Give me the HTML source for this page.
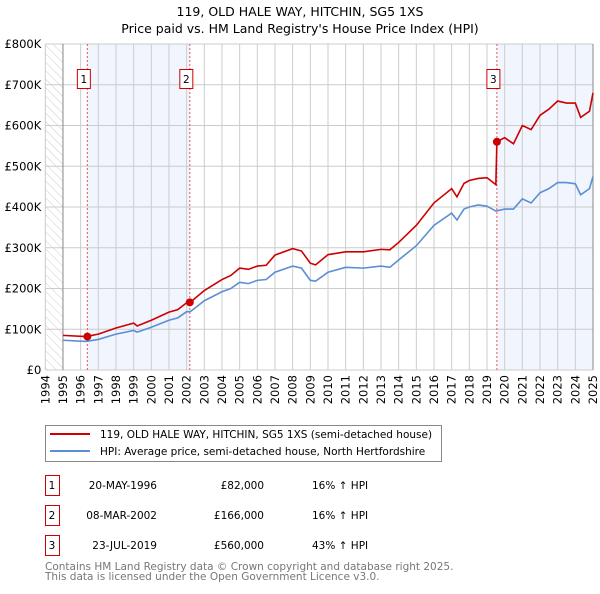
<!DOCTYPE html>
<html><head><meta charset="utf-8"><style>
body{margin:0;background:#fff;font-family:"DejaVu Sans","Liberation Sans",sans-serif}
svg text{font-family:"DejaVu Sans","Liberation Sans",sans-serif}
</style></head><body>
<svg id="c" width="600" height="590" xmlns="http://www.w3.org/2000/svg">
<defs><pattern id="hatch" width="6" height="6" patternUnits="userSpaceOnUse" patternTransform="rotate(-45)"><line x1="0" y1="0" x2="0" y2="6" stroke="#ccc" stroke-width="1"/></pattern></defs>
<text x="300" y="16" text-anchor="middle" font-size="12.5">119, OLD HALE WAY, HITCHIN, SG5 1XS</text>
<text x="300" y="33" text-anchor="middle" font-size="12.5">Price paid vs. HM Land Registry's House Price Index (HPI)</text>
<g id="plot"></g>
<rect x="45.5" y="425.5" width="396" height="36" fill="#fff" stroke="#888"/>
<line x1="50" y1="434" x2="90" y2="434" stroke="#cc0000" stroke-width="2"/>
<text x="100" y="438" font-size="10.5">119, OLD HALE WAY, HITCHIN, SG5 1XS (semi-detached house)</text>
<line x1="50" y1="451" x2="90" y2="451" stroke="#5b8fd4" stroke-width="2"/>
<text x="100" y="455" font-size="10.5">HPI: Average price, semi-detached house, North Hertfordshire</text>
<g id="table" font-size="10.5"></g>
<text x="45" y="570" font-size="10.5" fill="#777">Contains HM Land Registry data © Crown copyright and database right 2025.</text>
<text x="45" y="580" font-size="10.5" fill="#777">This data is licensed under the Open Government Licence v3.0.</text>
</svg>
<script>
const hpiYears=[1995,1996.3,1997,1998,1999,1999.2,2000,2001,2001.5,2002,2002.2,2003,2004,2004.5,2005,2005.5,2006,2006.5,2007,2008,2008.5,2009,2009.3,2010,2011,2012,2013,2013.5,2014,2015,2016,2017,2017.3,2017.7,2018,2018.5,2019,2019.5,2020,2020.5,2021,2021.5,2022,2022.5,2023,2023.5,2024,2024.3,2024.8,2025];
const hpiValues=[73,70,75,88,97,93,105,122,128,143,143,170,192,200,215,212,220,222,240,255,250,220,218,240,252,250,255,252,270,305,355,385,368,395,400,405,402,390,395,395,420,410,435,445,460,460,457,430,445,475];
const priceYears=[1995,1996.3,1997,1998,1999,1999.2,2000,2001,2001.5,2002,2002.2,2003,2004,2004.5,2005,2005.5,2006,2006.5,2007,2008,2008.5,2009,2009.3,2010,2011,2012,2013,2013.5,2014,2015,2016,2017,2017.3,2017.7,2018,2018.5,2019,2019.5,2019.56,2020,2020.5,2021,2021.5,2022,2022.5,2023,2023.5,2024,2024.3,2024.8,2025];
const priceValues=[85,82,88,103,115,108,122,142,148,165,166,195,222,232,250,247,255,257,282,298,292,262,258,283,290,290,296,295,313,355,410,445,425,458,465,470,472,455,560,570,555,600,590,625,640,660,655,655,620,635,680];
const saleLabels=["1","2","3"];
const saleYears=[1996.38,2002.18,2019.56];
const saleValues=[82,166,560];
const saleDates=["20-MAY-1996","08-MAR-2002","23-JUL-2019"];
const salePrices=["£82,000","£166,000","£560,000"];
const saleDiffs=["16% ↑ HPI","16% ↑ HPI","43% ↑ HPI"];
const yTicks=[0,100,200,300,400,500,600,700,800];
const yTickLabels=["£0","£100K","£200K","£300K","£400K","£500K","£600K","£700K","£800K"];
const xTicks=[1994,1995,1996,1997,1998,1999,2000,2001,2002,2003,2004,2005,2006,2007,2008,2009,2010,2011,2012,2013,2014,2015,2016,2017,2018,2019,2020,2021,2022,2023,2024,2025];

const X0=45.3,X1=593,Y0=370,Y1=44;
const xs=y=>X0+(y-1994)/(2025-1994)*(X1-X0);
const ys=v=>Y0-(v/800)*(Y0-Y1);
const NS="http://www.w3.org/2000/svg";
const plot=document.getElementById('plot');
function mk(tag,attrs,parent){const e=document.createElementNS(NS,tag);for(const k in attrs)e.setAttribute(k,attrs[k]);(parent||plot).appendChild(e);return e;}

let r=mk('rect',{x:X0,y:Y1,width:X1-X0,height:Y0-Y1,fill:'#fff'});


r=mk('rect',{x:X0,y:Y1,width:xs(1995)-X0,height:Y0-Y1,fill:'url(#hatch)'});


r=mk('rect',{x:xs(saleYears[0]),y:Y1,width:xs(saleYears[1])-xs(saleYears[0]),height:Y0-Y1,fill:'#eef3fc',opacity:0.8});


r=mk('rect',{x:xs(saleYears[2]),y:Y1,width:X1-xs(saleYears[2]),height:Y0-Y1,fill:'#eef3fc',opacity:0.8});



xTicks.forEach(t=>{
  const g=mk('line',{x1:xs(t),x2:xs(t),y1:Y1,y2:Y0,stroke:'#ccc','stroke-width':1});
  
  
  const tx=mk('text',{x:0,y:0,'font-size':11.5,'text-anchor':'end',transform:`translate(${xs(t)+4},${Y0+5}) rotate(-90)`});
  tx.textContent=t;
  
  
});
yTicks.forEach((t,i)=>{
  const g=mk('line',{x1:X0,x2:X1,y1:ys(t),y2:ys(t),stroke:'#ccc','stroke-width':1});
  
  
  const tx=mk('text',{x:X0-4,y:ys(t)+4,'font-size':11.5,'text-anchor':'end'});
  tx.textContent=yTickLabels[i];
  
  
});
let ax=mk('line',{x1:xs(1995),x2:xs(1995),y1:Y1,y2:Y0,stroke:'#888'});


ax=mk('line',{x1:X1,x2:X1,y1:Y1,y2:Y0,stroke:'#888'});



saleYears.forEach((y,i)=>{
  const l=mk('line',{x1:xs(y),x2:xs(y),y1:Y1,y2:Y0,stroke:'#e55','stroke-width':1,'stroke-dasharray':'2,2'});
  
  
});

let hp=mk('polyline',{points:hpiYears.map((y,i)=>xs(y)+','+ys(hpiValues[i])).join(' '),fill:'none',stroke:'#5b8fd4','stroke-width':1.6});


let pp=mk('polyline',{points:priceYears.map((y,i)=>xs(y)+','+ys(priceValues[i])).join(' '),fill:'none',stroke:'#cc0000','stroke-width':1.6});



saleYears.forEach((y,i)=>{
  const c=mk('circle',{cx:xs(y),cy:ys(saleValues[i]),r:4,fill:'#cc0000'});
  
  
  const bx=xs(y)-3.5;
  const b=mk('rect',{x:bx-6.5,y:69.5,width:13,height:19,fill:'#fff',stroke:'#cc0000'});
  
  
  const t=mk('text',{x:bx,y:83,'font-size':10.5,'text-anchor':'middle'});
  t.textContent=saleLabels[i];
  
  
});

const table=document.getElementById('table');
saleLabels.forEach((s,i)=>{
  const y=475+i*30;
  const b=mk('rect',{x:45.5,y:y+0.5,width:14,height:20,fill:'#fff',stroke:'#cc0000'},table);
  
  
  const cols=[[52,s,'middle'],[157,saleDates[i],'end'],[264,salePrices[i],'end'],[312,saleDiffs[i],'start']];
  const names=['table-number','table-date','table-price','table-hpi-diff'];
  cols.forEach((c,j)=>{
    const t=mk('text',{x:c[0],y:y+14,'text-anchor':c[2]},table);
    t.textContent=c[1];
    
    
  });
});
</script>
</body></html>
